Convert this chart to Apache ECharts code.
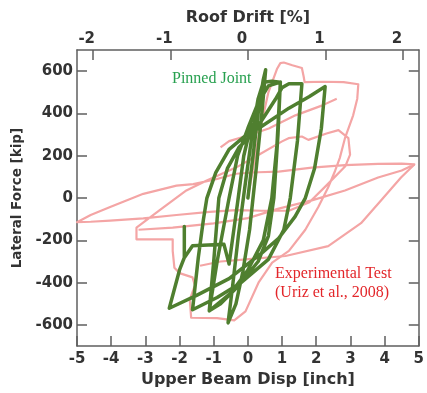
<!DOCTYPE html>
<html>
<head>
<meta charset="utf-8">
<script src="https://cdn.jsdelivr.net/npm/echarts@6/dist/echarts.min.js"></script>
<style>
html,body{margin:0;padding:0;background:#fff;}
#chart{width:427px;height:393px;}
</style>
</head>
<body>
<div id="chart"></div>
<script>
// ---- data (x: upper beam displacement [inch], y: lateral force [kip]) ----
var xTicks = [-5, -4, -3, -2, -1, 0, 1, 2, 3, 4, 5];
var yTicks = [-600, -400, -200, 0, 200, 400, 600];
var driftTicks = [-2, -1, 0, 1, 2];          // roof drift [%]
var inchPerDrift = 2.27;                      // 1 % roof drift = 2.27 inch

// Experimental test (Uriz et al., 2008)
var testMain = [
  [0,0],[0.3,280],[0.6,500],[0.85,610],[0.95,638],[1.05,641],[1.3,628],[1.58,615],[1.63,576],[1.66,548],[2.2,550],[2.8,548],[3.23,538],
  [3.2,470],[3.08,391],[2.84,283],[2.69,190],[2.55,128],[2.35,51],[2.06,-42],[1.68,-150],[1.2,-250],[0.71,-305],[0.32,-397],[-0.07,-536],[-0.4,-578],[-0.9,-568],[-1.66,-566],
  [-1.7,-480],[-1.55,-413],[-1.62,-375],[-2.0,-355],[-2.15,-330],[-2.2,-250],[-2.2,-195],[-3.26,-195],[-3.26,-140],
  [-2.58,-57],[-1.8,36],[-1.22,82],[-0.35,144],[0.32,205],[1.0,268],[1.19,283],[1.58,291],[1.77,275],[2.3,305],[2.65,321],[2.94,283],[2.99,205],[2.85,150],
  [2.3,60],[1.8,-20],[1.2,-60],[0.4,-60],[-0.35,-57],[-1.12,-65],[-2.09,-80],[-3.06,-96],[-4.03,-107],[-4.6,-112],[-5.0,-114],
  [-4.6,-80],[-4.03,-42],[-3.06,20],[-2.09,59],[-1.6,66],[-0.93,89],[-0.35,115],[0.3,122],[0.9,125],[1.87,144],[2.84,156],[3.81,162],[4.5,163],[4.87,159],
  [4.5,130],[3.81,97],[2.84,36],[1.87,-11],[0.9,-50],[0,-95],[-1.0,-120],[-2.2,-140],[-3.2,-150]
];
var testLower = [
  [4.87,159],[4.48,97],[3.9,-10],[3.31,-119],[2.35,-227],[1.1,-274],[0.03,-289],[-0.8,-300],[-1.4,-320]
];
var testUpper = [
  [-0.8,240],[-0.55,269],[0.03,297],[0.61,329],[1.39,391],[2.16,437],[2.6,470]
];

// Pinned joint model
var pinned = [
  [0,0],[0.15,200],[0.3,400],[0.45,560],[0.52,607],
  [0.42,420],[0.25,150],[0.05,-150],[-0.15,-350],[-0.35,-500],[-0.58,-590],
  [-0.45,-420],[-0.28,-180],[-0.05,100],[0.15,330],[0.3,470],[0.45,548],[0.7,552],[0.95,548],
  [0.88,300],[0.76,0],[0.6,-180],[0.3,-300],[-0.3,-420],[-0.8,-500],[-1.13,-533],
  [-0.9,-300],[-0.55,0],[-0.3,200],[0.0,330],[0.3,450],[0.6,530],[0.95,548],
  [0.85,250],[0.7,0],[0.45,-200],[0.0,-340],[-0.5,-450],[-1.13,-533],
  [-1.0,-300],[-0.9,-100],[-0.85,0],[-0.6,140],[-0.26,240],[0.13,300],[0.5,390],[0.81,468],[1.0,522],[1.2,540],[1.58,540],
  [1.45,270],[1.24,0],[1.05,-150],[0.6,-290],[-0.2,-400],[-0.9,-470],[-1.62,-528],
  [-1.45,-280],[-1.3,-100],[-1.2,0],[-0.94,120],[-0.55,230],[-0.07,295],[0.32,330],[1.2,425],[1.8,480],[2.26,527],
  [2.15,330],[1.95,140],[1.68,0],[1.38,-88],[0.9,-190],[0.42,-258],[-0.55,-381],[-1.5,-460],[-2.30,-521],
  [-2.0,-340],[-1.86,-282],[-1.86,-134],[-1.86,-282],[-1.62,-226],[-0.70,-219],[-0.55,-312],
  [-0.3,-20],[-0.12,200],[0.1,350]
];

var axisColor = '#5f5f5f';
var labelFont = {color:'#333', fontFamily:'DejaVu Sans', fontWeight:'bold', fontSize:15};
var nameFont = {color:'#333', fontFamily:'DejaVu Sans', fontWeight:'bold', fontSize:16};

var chart = echarts.init(document.getElementById('chart'));
var topTickValues = driftTicks.map(function(d){return d*inchPerDrift;});
chart.setOption({
  animation:false,
  grid:{left:77, right:6, top:50, bottom:41, containLabel:false},
  xAxis:[{
    type:'value', position:'bottom', min:-5, max:5, interval:1,
    name:'Upper Beam Disp [inch]', nameLocation:'middle', nameGap:23, nameTextStyle:nameFont,
    axisLine:{show:true, onZero:false, lineStyle:{color:axisColor, width:1.5}},
    axisTick:{show:true, inside:true, length:10, lineStyle:{color:axisColor, width:1.5}},
    axisLabel:Object.assign({margin:6}, labelFont),
    splitLine:{show:false}
  },{
    type:'value', position:'top', min:-5, max:5,
    name:'Roof Drift [%]', nameLocation:'middle', nameGap:24, nameTextStyle:nameFont,
    axisLine:{show:true, onZero:false, lineStyle:{color:axisColor, width:1.5}},
    axisTick:{show:true, inside:true, length:10, customValues:topTickValues, lineStyle:{color:axisColor, width:1.5}},
    axisLabel:Object.assign({margin:3, customValues:topTickValues, padding:[0,12,0,0],
      formatter:function(v){return String(Math.round(v/inchPerDrift));}}, labelFont),
    splitLine:{show:false}
  }],
  yAxis:[{
    type:'value', position:'left', min:-700, max:700,
    name:'Lateral Force [kip]', nameLocation:'middle', nameGap:52,
    nameTextStyle:{color:'#333', fontFamily:'DejaVu Sans', fontWeight:'bold', fontSize:13.5},
    axisLine:{show:true, onZero:false, lineStyle:{color:axisColor, width:1.5}},
    axisTick:{show:true, inside:true, length:10, customValues:yTicks, lineStyle:{color:axisColor, width:1.5}},
    axisLabel:Object.assign({margin:4, customValues:yTicks}, labelFont),
    splitLine:{show:false}
  },{
    type:'value', position:'right', min:-700, max:700,
    axisLine:{show:true, onZero:false, lineStyle:{color:axisColor, width:1.5}},
    axisTick:{show:true, inside:true, length:10, customValues:yTicks, lineStyle:{color:axisColor, width:1.5}},
    axisLabel:{show:false},
    splitLine:{show:false}
  }],
  series:[
    {type:'line', name:'Experimental Test', data:testMain, showSymbol:false, symbol:'none',
     lineStyle:{color:'#f4a5a5', width:2.2, join:'round'}, z:2},
    {type:'line', name:'Experimental Test b', data:testLower, showSymbol:false, symbol:'none',
     lineStyle:{color:'#f4a5a5', width:2.2, join:'round'}, z:2},
    {type:'line', name:'Experimental Test c', data:testUpper, showSymbol:false, symbol:'none',
     lineStyle:{color:'#f4a5a5', width:2.2, join:'round'}, z:2},
    {type:'line', name:'Pinned Joint', data:pinned, showSymbol:false, symbol:'none',
     lineStyle:{color:'#4f7f2f', width:3.5, join:'round', cap:'round'}, z:3}
  ],
  graphic:[
    {type:'text', left:172, top:71, style:{text:'Pinned Joint', fill:'#27a04f', font:'16px "Liberation Serif"'}},
    {type:'text', left:275, top:266, style:{text:'Experimental Test', fill:'#e3262a', font:'16px "Liberation Serif"'}},
    {type:'text', left:275, top:285, style:{text:'(Uriz et al., 2008)', fill:'#e3262a', font:'16px "Liberation Serif"'}}
  ]
});
</script>
</body>
</html>
